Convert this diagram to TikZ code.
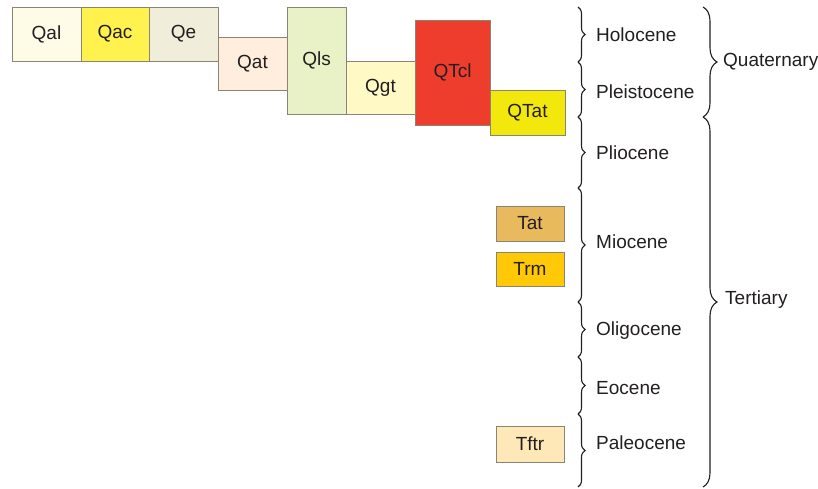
\documentclass[tikz,border=0pt]{standalone}
\usepackage{fontspec}
\setmainfont{Liberation Sans}
\usepackage{xcolor}
\usepackage{tikz}
\usetikzlibrary{decorations.pathreplacing}

\definecolor{edge}{HTML}{8A8572}
\definecolor{ink}{HTML}{231F20}
\definecolor{qal}{HTML}{FEFCE6}
\definecolor{qac}{HTML}{FFF24F}
\definecolor{qe}{HTML}{F0EDDA}
\definecolor{qat}{HTML}{FFEEDD}
\definecolor{qls}{HTML}{E9F1C6}
\definecolor{qgt}{HTML}{FFF9C6}
\definecolor{qtcl}{HTML}{EE3D2D}
\definecolor{qtat}{HTML}{F3E80C}
\definecolor{tat}{HTML}{E9B95D}
\definecolor{trm}{HTML}{FFC907}
\definecolor{tftr}{HTML}{FFE8B8}

\tikzset{
  unit/.style={draw=edge,line width=0.9pt,inner sep=0pt,text=ink,font=\fontsize{19}{22}\selectfont},
  epoch/.style={decorate,decoration={brace,amplitude=7pt},line width=1.1pt,draw=ink},
  period/.style={decorate,decoration={brace,amplitude=14pt},line width=1.1pt,draw=ink},
  lab/.style={anchor=west,inner sep=0pt,text=ink,font=\fontsize{19}{22}\selectfont}
}

\begin{document}
\begin{tikzpicture}[x=1pt,y=-1pt]
  \useasboundingbox (0,0) rectangle (818,489);

  % map units
  \node[unit,fill=qal,minimum width=69pt,minimum height=54pt] (Qal) at (46.5,34) {Qal};
  \node[unit,fill=qac,minimum width=68pt,minimum height=54pt] (Qac) at (115,34) {Qac};
  \node[unit,fill=qe,minimum width=69pt,minimum height=54pt] (Qe) at (183.5,34) {Qe};
  \node[unit,fill=qat,minimum width=69pt,minimum height=53pt] (Qat) at (252.5,63.5) {Qat};
  \node[unit,fill=qls,minimum width=59pt,minimum height=107pt] (Qls) at (316.5,60.5) {Qls};
  \node[unit,fill=qgt,minimum width=69pt,minimum height=53pt] (Qgt) at (380.5,87.5) {Qgt};
  \node[unit,fill=qtcl,minimum width=75pt,minimum height=105pt] (QTcl) at (452.5,72.5) {QTcl};
  \node[unit,fill=qtat,minimum width=75pt,minimum height=45pt] (QTat) at (527.5,112.5) {QTat};
  \node[unit,fill=tat,minimum width=68pt,minimum height=35pt] (Tat) at (530,223.5) {Tat};
  \node[unit,fill=trm,minimum width=68pt,minimum height=34pt] (Trm) at (530,269) {Trm};
  \node[unit,fill=tftr,minimum width=68pt,minimum height=36pt] (Tftr) at (530,444) {Tftr};

  % epoch boundaries
  \coordinate (e0) at (578,7);
  \coordinate (e1) at (578,62);
  \coordinate (e2) at (578,117);
  \coordinate (e3) at (578,188);
  \coordinate (e4) at (578,302);
  \coordinate (e5) at (578,357);
  \coordinate (e6) at (578,414);
  \coordinate (e7) at (578,487);
  \draw[epoch] (e0) -- (e1);
  \draw[epoch] (e1) -- (e2);
  \draw[epoch] (e2) -- (e3);
  \draw[epoch] (e3) -- (e4);
  \draw[epoch] (e4) -- (e5);
  \draw[epoch] (e5) -- (e6);
  \draw[epoch] (e6) -- (e7);

  \node[lab] (holocene) at (596,35) {Holocene};
  \node[lab] (pleistocene) at (596,92) {Pleistocene};
  \node[lab] (pliocene) at (596,153) {Pliocene};
  \node[lab] (miocene) at (596,242) {Miocene};
  \node[lab] (oligocene) at (596,331) {Oligocene};
  \node[lab] (eocene) at (596,388) {Eocene};
  \node[lab] (paleocene) at (596,443) {Paleocene};

  % periods
  \coordinate (p0) at (703,7);
  \coordinate (p1) at (703,117);
  \coordinate (p2) at (703,487);
  \draw[period] (p0) -- (p1);
  \draw[period] (p1) -- (p2);

  \node[lab] (quaternary) at (723,62) {Quaternary};
  \node[lab] (tertiary) at (725,300) {Tertiary};
\end{tikzpicture}
\end{document}
